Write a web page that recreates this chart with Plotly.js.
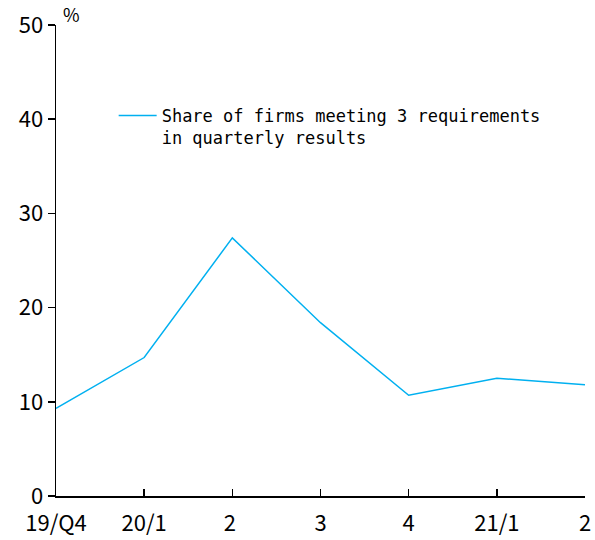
<!DOCTYPE html>
<html><head><meta charset="utf-8">
<script src="https://cdn.plot.ly/plotly-3.0.1.min.js"></script>
<style>body{margin:0;background:#fff}#chart{width:595px;height:540px}</style>
</head><body><div id="chart"></div>
<script>
const categories = ["19/Q4", "20/1", "2 ", "3", "4", "21/1", "2"];
const shareValues = [9.3, 14.7, 27.4, 18.4, 10.7, 12.5, 11.8];
const seriesName = "Share of firms meeting 3 requirements<br>in quarterly results";
const yTicks = [0, 10, 20, 30, 40, 50];

const fam = "'Noto Sans CJK JP', sans-serif";
const tickFont = {family: fam, size: 22, color: "#000"};

const trace = {
  x: categories.map((c, i) => i),
  y: shareValues,
  type: "scatter",
  mode: "lines",
  name: seriesName,
  line: {color: "#00B0F0", width: 1.5},
  showlegend: true
};

const layout = {
  width: 595, height: 540,
  margin: {l: 56, r: 10, t: 25, b: 44},
  paper_bgcolor: "#fff", plot_bgcolor: "#fff",
  showlegend: true,
  legend: {x: 0.109, y: 0.845, xanchor: "left", yanchor: "top", valign: "top", itemwidth: 38,
    font: {family: "'DejaVu Sans Mono', monospace", size: 17, color: "#000"},
    bgcolor: "rgba(0,0,0,0)"},
  xaxis: {
    range: [0, 6], tickvals: categories.map((c, i) => i), ticktext: categories,
    showgrid: false, zeroline: false, showline: true, linecolor: "#000", linewidth: 1.5,
    ticks: "inside", ticklen: 7, tickcolor: "#000", tickwidth: 1.5,
    tickfont: tickFont, ticklabelstandoff: 7, fixedrange: true
  },
  yaxis: {
    range: [0, 50], tickvals: yTicks,
    showgrid: false, zeroline: false, showline: true, linecolor: "#000", linewidth: 1.5,
    ticks: "outside", ticklen: 7, tickcolor: "#000", tickwidth: 1.5,
    tickfont: tickFont, fixedrange: true
  },
  annotations: [{
    text: "%", xref: "paper", yref: "paper", x: 0.0, y: 1.0, xanchor: "left", yanchor: "bottom",
    xshift: 5, yshift: -4, showarrow: false,
    font: {family: fam, size: 18, color: "#000"}
  }]
};

Plotly.newPlot("chart", [trace], layout, {staticPlot: true, displayModeBar: false});
</script></body></html>
